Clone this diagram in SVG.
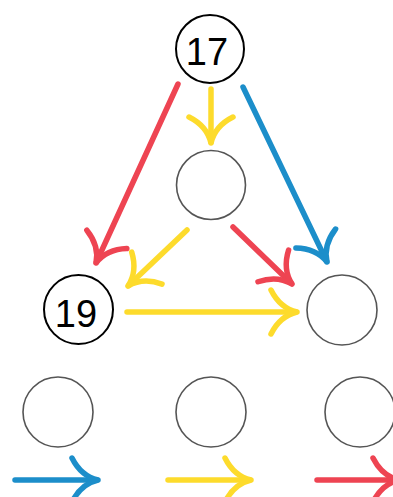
<svg xmlns="http://www.w3.org/2000/svg" width="393" height="497" viewBox="0 0 393 497">
<style>
.num{fill:#fff;stroke:#000;stroke-width:2}
.empty{fill:#fff;stroke:#555;stroke-width:1.6}
.lbl{font-family:"Liberation Sans",Arial,sans-serif;font-size:38px;fill:#000;text-anchor:middle}
.a{fill:none;stroke-width:5.5;stroke-linecap:round}
.r{stroke:#EE4452}
.y{stroke:#FDDB2C}
.b{stroke:#1C8ECA}
</style>
<defs>
<marker id="mr" markerUnits="userSpaceOnUse" orient="auto" refX="0" refY="0" markerWidth="10" markerHeight="10" overflow="visible"><path d="M -26,-22 Q -17,-4 0,0 Q -17,4 -26,22" fill="none" stroke="#EE4452" stroke-width="5.5" stroke-linecap="round"/></marker>
<marker id="my" markerUnits="userSpaceOnUse" orient="auto" refX="0" refY="0" markerWidth="10" markerHeight="10" overflow="visible"><path d="M -26,-22 Q -17,-4 0,0 Q -17,4 -26,22" fill="none" stroke="#FDDB2C" stroke-width="5.5" stroke-linecap="round"/></marker>
<marker id="mb" markerUnits="userSpaceOnUse" orient="auto" refX="0" refY="0" markerWidth="10" markerHeight="10" overflow="visible"><path d="M -26,-22 Q -17,-4 0,0 Q -17,4 -26,22" fill="none" stroke="#1C8ECA" stroke-width="5.5" stroke-linecap="round"/></marker>
</defs>
<rect width="393" height="497" fill="#fff"/>
<g id="connectors">
<line class="a r" x1="178" y1="84" x2="96" y2="263" marker-end="url(#mr)"/>
<line class="a y" x1="211" y1="89" x2="211" y2="143" marker-end="url(#my)"/>
<line class="a b" x1="243" y1="87" x2="327" y2="262" marker-end="url(#mb)"/>
<line class="a y" x1="187" y1="230" x2="128" y2="286" marker-end="url(#my)"/>
<line class="a r" x1="233" y1="227" x2="292" y2="284" marker-end="url(#mr)"/>
<line class="a y" x1="127" y1="312" x2="297" y2="312" marker-end="url(#my)"/>
<line class="a b" x1="15" y1="480" x2="98" y2="480" marker-end="url(#mb)"/>
<line class="a y" x1="168" y1="480" x2="251" y2="480" marker-end="url(#my)"/>
<line class="a r" x1="317" y1="480" x2="399" y2="480" marker-end="url(#mr)"/>
</g>
<g id="n17"><circle class="num" cx="210" cy="49" r="34"/><text class="lbl" x="207" y="65">17</text></g>
<g id="nmid"><circle class="empty" cx="211" cy="185" r="34.5"/></g>
<g id="n19"><circle class="num" cx="78.5" cy="309.5" r="34.5"/><text class="lbl" x="76" y="327">19</text></g>
<g id="nright"><circle class="empty" cx="342" cy="310" r="35"/></g>
<g id="nb1"><circle class="empty" cx="58" cy="412" r="35"/></g>
<g id="nb2"><circle class="empty" cx="211" cy="412" r="35"/></g>
<g id="nb3"><circle class="empty" cx="360" cy="412" r="35"/></g>
</svg>
